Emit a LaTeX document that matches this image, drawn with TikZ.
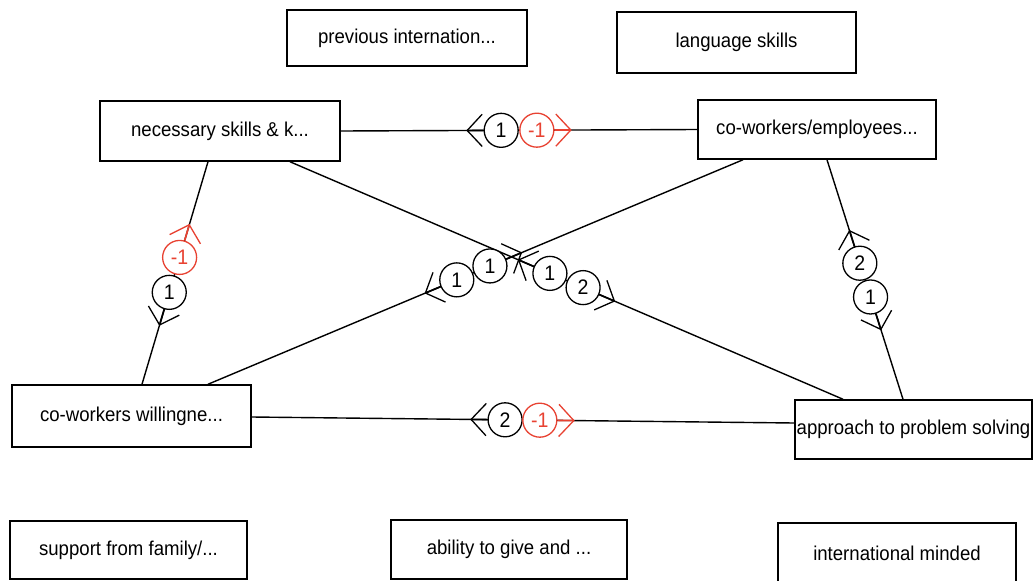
\documentclass[tikz,border=0pt]{standalone}
\usepackage{fontspec}
\setmainfont[FakeStretch=0.93]{Liberation Sans}
\usetikzlibrary{calc}

\definecolor{wred}{RGB}{232,66,50}

\tikzset{
  concept/.style={draw, line width=1.5pt, fill=white, inner sep=0pt,
    font=\fontsize{20}{24}\selectfont},
  link/.style={line width=1.4pt},
  wt/.style={circle, draw, line width=1.3pt, fill=white, minimum size=34pt,
    inner sep=0pt, font=\fontsize{21}{24}\selectfont},
  wtneg/.style={wt, draw=wred, text=wred},
  shaft/.style={line width=1.7pt},
  tip/.style={line width=1.3pt}
}

% weight marker: short shaft and open arrow tip pointing from circle #1 towards #2
\newcommand{\wchev}[3]{%
  \draw[#3, shaft] (#1) -- ($(#1.center)!34pt!(#2)$) coordinate (apx);
  \draw[#3, tip] ($(apx)!22pt!47:(#1.center)$) -- (apx) -- ($(apx)!22pt!-47:(#1.center)$);
}

\begin{document}
\begin{tikzpicture}[x=1pt, y=-1pt]
\fill[white] (0,0) rectangle (1034,581);
\useasboundingbox (0,0) rectangle (1034,581);

% concepts
\node[concept, minimum width=240pt, minimum height=56pt] (prev) at (407,38) {previous internation...};
\node[concept, minimum width=239pt, minimum height=61pt] (lang) at (736.5,42.5) {language skills};
\node[concept, minimum width=240pt, minimum height=60pt] (nec) at (220,131) {necessary skills \& k...};
\node[concept, minimum width=238pt, minimum height=59pt] (cwe) at (817,129.5) {co-workers/employees...};
\node[concept, minimum width=239pt, minimum height=62pt] (cww) at (131.5,416) {co-workers willingne...};
\node[concept, minimum width=237pt, minimum height=59pt] (apr) at (913.5,429.5) {approach to problem solving};
\node[concept, minimum width=237pt, minimum height=58pt] (sup) at (128.5,550) {support from family/...};
\node[concept, minimum width=236pt, minimum height=59pt] (abl) at (509,549.5) {ability to give and ...};
\node[concept, minimum width=238pt, minimum height=60pt] (intl) at (897,553) {international minded};

% connector end points on the concept borders
\coordinate (e1s) at (nec.east);
\coordinate (e1t) at (cwe.west);
\coordinate (e2s) at ([xshift=-12pt]nec.south);
\coordinate (e2t) at ([xshift=10.5pt]cww.north);
\coordinate (e3s) at ([xshift=70pt]nec.south);
\coordinate (e3t) at ([xshift=-70.5pt]apr.north);
\coordinate (e4s) at ([xshift=-74pt]cwe.south);
\coordinate (e4t) at ([xshift=76.5pt]cww.north);
\coordinate (e5s) at ([xshift=10pt]cwe.south);
\coordinate (e5t) at ([xshift=-10.5pt]apr.north);
\coordinate (e6s) at ([yshift=-1pt]cww.east);
\coordinate (e6t) at ([yshift=6.5pt]apr.west);

% connectors with their weights
\draw[link] (e1s) -- (e1t)
  node[wt, pos=.45] (k1a) {1}
  node[wtneg, pos=.55] (k1b) {-1};
\draw[link] (e2s) -- (e2t)
  node[wtneg, pos=.43] (k2a) {-1}
  node[wt, pos=.587] (k2b) {1};
\draw[link] (e3s) -- (e3t)
  node[wt, pos=.47] (k3a) {1}
  node[wt, pos=.53] (k3b) {2};
\draw[link] (e4s) -- (e4t)
  node[wt, pos=.473] (k4a) {1}
  node[wt, pos=.535] (k4b) {1};
\draw[link] (e5s) -- (e5t)
  node[wt, pos=.432] (k5a) {2}
  node[wt, pos=.573] (k5b) {1};
\draw[link] (e6s) -- (e6t)
  node[wt, pos=.467] (k6a) {2}
  node[wtneg, pos=.531] (k6b) {-1};

% direction tips of the weights
\wchev{k1a}{e1s}{black}
\wchev{k1b}{e1t}{wred}
\wchev{k2a}{e2s}{wred}
\wchev{k2b}{e2t}{black}
\wchev{k3a}{e3s}{black}
\wchev{k3b}{e3t}{black}
\wchev{k4a}{e4s}{black}
\wchev{k4b}{e4t}{black}
\wchev{k5a}{e5s}{black}
\wchev{k5b}{e5t}{black}
\wchev{k6a}{e6s}{black}
\wchev{k6b}{e6t}{wred}
\end{tikzpicture}
\end{document}
